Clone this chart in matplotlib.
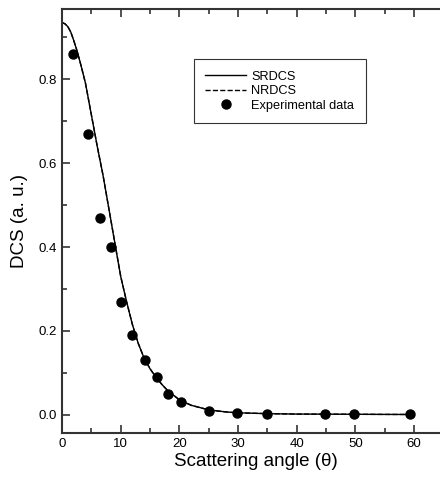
import matplotlib
matplotlib.use("Agg")
import matplotlib.pyplot as plt
from matplotlib.ticker import MultipleLocator

plt.rcParams['font.family'] = ['Liberation Sans', 'DejaVu Sans']

# Theoretical differential cross sections
theory_angle = [0, 0.5, 1, 1.5, 2, 2.5, 3, 3.5, 4, 5, 6, 7, 8, 9, 10, 11, 12, 13, 14,
                15, 16, 17, 18, 20, 22, 25, 28, 30, 35, 40, 45, 50, 55, 60]
srdcs = [0.935, 0.932, 0.925, 0.912, 0.892, 0.870, 0.845, 0.818, 0.79, 0.715, 0.64,
         0.57, 0.49, 0.41, 0.33, 0.27, 0.215, 0.17, 0.135, 0.11, 0.09, 0.073, 0.058,
         0.036, 0.023, 0.012, 0.007, 0.005, 0.003, 0.002, 0.0018, 0.0015, 0.0012, 0.001]
nrdcs = [0.935, 0.932, 0.925, 0.912, 0.892, 0.870, 0.845, 0.818, 0.79, 0.715, 0.64,
         0.57, 0.49, 0.41, 0.33, 0.27, 0.215, 0.17, 0.135, 0.11, 0.09, 0.073, 0.058,
         0.036, 0.023, 0.012, 0.007, 0.005, 0.003, 0.002, 0.0018, 0.0015, 0.0012, 0.001]

# Measured values
exp_angle = [1.9, 4.5, 6.5, 8.3, 10.1, 12.0, 14.2, 16.2, 18.0, 20.2, 25.0, 29.8, 34.9,
             44.8, 49.8, 59.3]
exp_dcs = [0.86, 0.67, 0.47, 0.40, 0.27, 0.19, 0.13, 0.09, 0.05, 0.03, 0.01, 0.005,
           0.003, 0.002, 0.002, 0.002]

fig = plt.figure(figsize=(4.4, 4.8), dpi=100)
# the plot frame runs past the right edge of the figure
ax = fig.add_axes([0.141, 0.098, 0.88, 0.883])

ax.plot(theory_angle, srdcs, '-', color='black', lw=1.0, label='SRDCS')
ax.plot(theory_angle, nrdcs, '--', color='black', lw=1.0, label='NRDCS')
ax.plot(exp_angle, exp_dcs, 'o', color='black', ms=6.5, ls='none', label='Experimental data')

ax.set_xlim(0, 66)
ax.set_ylim(-0.043, 0.967)
ax.xaxis.set_major_locator(MultipleLocator(10))
ax.xaxis.set_minor_locator(MultipleLocator(5))
ax.yaxis.set_major_locator(MultipleLocator(0.2))
ax.yaxis.set_minor_locator(MultipleLocator(0.1))
ax.tick_params(which='both', direction='in', top=True, right=True, labelsize=9.5,
               width=1.2, color='#333333')
ax.tick_params(which='major', length=6)
ax.tick_params(which='minor', length=3.5)
for s in ax.spines.values():
    s.set_linewidth(1.5)
    s.set_color('#333333')

ax.set_xlabel('Scattering angle (θ)', fontsize=13.5, labelpad=2)
ax.set_ylabel('DCS (a. u.)', fontsize=13.5, labelpad=8)

leg = ax.legend(loc='upper left', bbox_to_anchor=(0.34, 0.882), fontsize=9.2,
                frameon=True, fancybox=False, edgecolor='black', handlelength=3.2,
                borderpad=0.9, labelspacing=0.2, handletextpad=0.4, borderaxespad=0)
leg.get_frame().set_linewidth(0.8)

fig.savefig('out.png', dpi=100)
